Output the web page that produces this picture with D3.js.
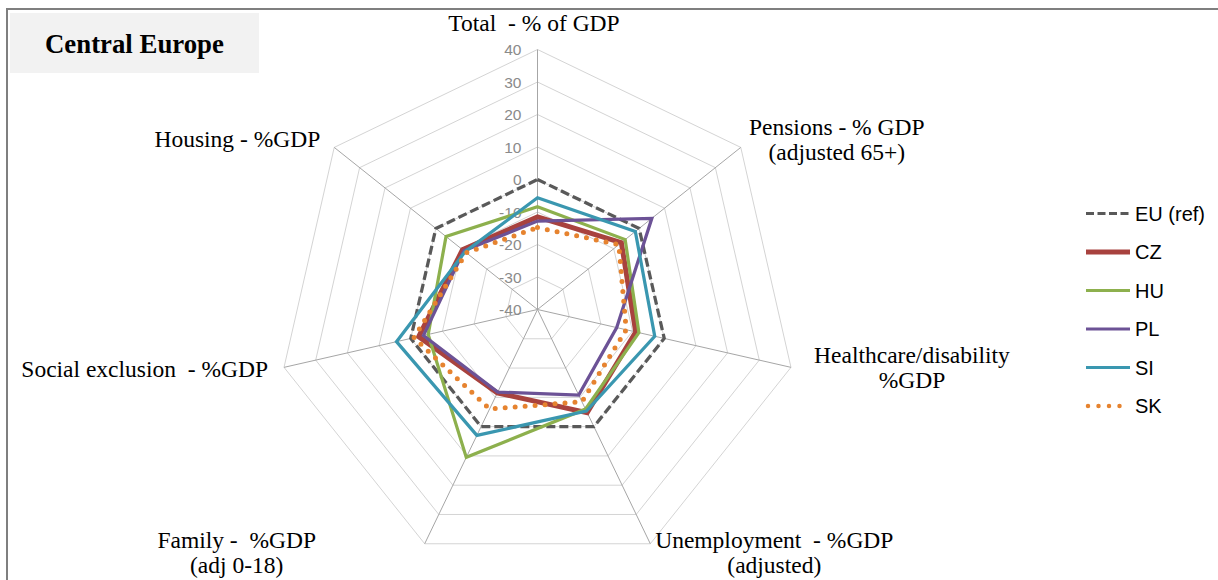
<!DOCTYPE html>
<html>
<head>
<meta charset="utf-8">
<script src="https://cdn.jsdelivr.net/npm/d3@7"></script>
<style>
  html, body { margin: 0; padding: 0; background: #fff; }
  svg { display: block; }
  .axis-label { font-family: "Liberation Serif", "Times New Roman", serif; font-size: 23.5px; fill: #000; white-space: pre; }
  .tick-label { font-family: "Liberation Sans", Arial, sans-serif; font-size: 15.5px; fill: #8a8a8a; }
  .legend-label { font-family: "Liberation Sans", Arial, sans-serif; font-size: 20px; fill: #000; }
  .title { font-family: "Liberation Serif", "Times New Roman", serif; font-size: 26.8px; font-weight: bold; fill: #000; }
</style>
</head>
<body>
<svg id="chart" width="1218" height="580"></svg>
<script>
// Social spending relative to the EU average, Central European countries
const axes = [
  ["Total  - % of GDP"],
  ["Pensions - % GDP", "(adjusted 65+)"],
  ["Healthcare/disability", "%GDP"],
  ["Unemployment  - %GDP", "(adjusted)"],
  ["Family -  %GDP", "(adj 0-18)"],
  ["Social exclusion  - %GDP"],
  ["Housing - %GDP"]
];

const seriesNames = ["EU (ref)", "CZ", "HU", "PL", "SI", "SK"];

// one value per axis, same order as `axes`
const euValues = [0, 0, 0, 0, 0, 0, 0];
const czValues = [-11.5, -7, -9, -4.8, -11.5, -2.5, -10.5];
const huValues = [-8.4, -5.5, -8, -6, 10.5, -5.5, -4];
const plValues = [-12.8, 5, -15, -10.8, -11.8, -4, -11];
const siValues = [-5.6, -1.5, -3, -5.3, 3, 4.5, -11.5];
const skValues = [-14.8, -8, -12, -8.5, -6, -1, -12];

const tickValues = [-40, -30, -20, -10, 0, 10, 20, 30, 40];

const seriesValues = [euValues, czValues, huValues, plValues, siValues, skValues];

// line styles per series
const styles = [
  { color: "#595959", width: 3.25, dash: "9,4", cap: "butt" },
  { color: "#a8423e", width: 5, dash: null, cap: "butt" },
  { color: "#8db04d", width: 3.25, dash: null, cap: "butt" },
  { color: "#6c5296", width: 3.25, dash: null, cap: "butt" },
  { color: "#3a97b0", width: 3.25, dash: null, cap: "butt" },
  { color: "#e6832f", width: 5, dash: "0,10", cap: "round" }
];

const svg = d3.select("#chart");
const cx = 537.5, cy = 309.5, R = 260;

// outer frame and title box
svg.append("rect").attr("x", 7).attr("y", 9).attr("width", 1400).attr("height", 800)
  .attr("fill", "none").attr("stroke", "#7f7f7f").attr("stroke-width", 2);
svg.append("rect").attr("x", 10).attr("y", 13).attr("width", 249).attr("height", 60).attr("fill", "#f2f2f2");
svg.append("text").attr("class", "title").attr("x", 45).attr("y", 53).text("Central Europe");

const r = d3.scaleLinear().domain([-40, 40]).range([0, R]);
const angle = d3.scaleLinear().domain([0, axes.length]).range([0, 2 * Math.PI]);

const g = svg.append("g").attr("transform", `translate(${cx},${cy})`);

const pt = (i, v) => {
  const a = angle(i);
  return [r(v) * Math.sin(a), -r(v) * Math.cos(a)];
};

// concentric heptagon grid
const ringLine = d3.lineRadial().angle((d, i) => angle(i)).radius(d => r(d)).curve(d3.curveLinearClosed);
g.selectAll(".ring").data(tickValues.slice(1)).join("path")
  .attr("class", "ring")
  .attr("d", v => ringLine(axes.map(() => v)))
  .attr("fill", "none").attr("stroke", "#d4d4d4").attr("stroke-width", 1);

// spokes
g.selectAll(".spoke").data(axes).join("line")
  .attr("class", "spoke")
  .attr("x1", 0).attr("y1", 0)
  .attr("x2", (d, i) => pt(i, 40)[0]).attr("y2", (d, i) => pt(i, 40)[1])
  .attr("stroke", "#a6a6a6").attr("stroke-width", 1);

// value labels along the first spoke
g.selectAll(".tick-label").data(tickValues).join("text")
  .attr("class", "tick-label")
  .attr("x", -16).attr("y", v => -r(v))
  .attr("dy", "0.36em")
  .attr("text-anchor", "end")
  .text(v => v);

// series polygons
const seriesLine = d3.lineRadial().angle((d, i) => angle(i)).radius(d => r(d)).curve(d3.curveLinearClosed);
g.selectAll(".series").data(seriesValues).join("path")
  .attr("class", "series")
  .attr("d", d => seriesLine(d))
  .attr("fill", "none")
  .attr("stroke", (d, i) => styles[i].color)
  .attr("stroke-width", (d, i) => styles[i].width)
  .attr("stroke-dasharray", (d, i) => styles[i].dash)
  .attr("stroke-linecap", (d, i) => styles[i].cap)
  .attr("stroke-linejoin", "miter");

// category labels, offset from the end of each spoke
const labelPlacement = [
  { dx: -3.5, dy: -18.5, anchor: "middle" },
  { dx: 96, dy: -12.5, anchor: "middle" },
  { dx: 121, dy: -4.5, anchor: "middle" },
  { dx: 124, dy: 4, anchor: "middle" },
  { dx: -188, dy: 4, anchor: "middle" },
  { dx: -16, dy: 10, anchor: "end" },
  { dx: -14, dy: 0, anchor: "end" }
];
const lineGap = 25.5;
axes.forEach((lines, i) => {
  const [x, y] = pt(i, 40);
  const p = labelPlacement[i];
  const t = g.append("text").attr("class", "axis-label")
    .attr("text-anchor", p.anchor);
  lines.forEach((s, j) => {
    t.append("tspan").attr("x", x + p.dx).attr("y", y + p.dy + j * lineGap).text(s);
  });
});

// legend
const legend = svg.append("g").attr("transform", "translate(1086,213.5)");
const rowGap = 38.5;
seriesNames.forEach((name, i) => {
  const row = legend.append("g").attr("transform", `translate(0,${i * rowGap})`);
  const s = styles[i];
  row.append("line").attr("x1", i === 5 ? 2 : 0).attr("x2", 44).attr("y1", 0).attr("y2", 0)
    .attr("stroke", s.color)
    .attr("stroke-width", i === 5 ? 4.5 : (i === 1 ? 5 : 3))
    .attr("stroke-dasharray", i === 0 ? "8,3.5" : (i === 5 ? "0,10.5" : null))
    .attr("stroke-linecap", s.cap);
  row.append("text").attr("class", "legend-label").attr("x", 49).attr("y", 0).attr("dy", "0.36em").text(name);
});
</script>
</body>
</html>
